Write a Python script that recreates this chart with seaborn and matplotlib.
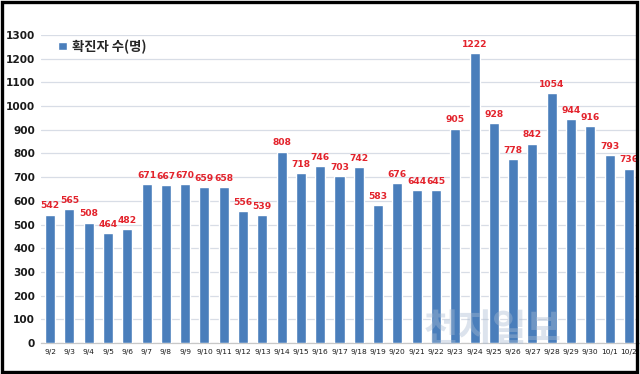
import matplotlib
matplotlib.use("Agg")
import matplotlib.pyplot as plt
import seaborn as sns
import pandas as pd
from matplotlib.patches import Rectangle

dates = ["9/2", "9/3", "9/4", "9/5", "9/6", "9/7", "9/8", "9/9", "9/10", "9/11",
         "9/12", "9/13", "9/14", "9/15", "9/16", "9/17", "9/18", "9/19", "9/20", "9/21",
         "9/22", "9/23", "9/24", "9/25", "9/26", "9/27", "9/28", "9/29", "9/30", "10/1", "10/2"]
cases = [542, 565, 508, 464, 482, 671, 667, 670, 659, 658,
         556, 539, 808, 718, 746, 703, 742, 583, 676, 644,
         645, 905, 1222, 928, 778, 842, 1054, 944, 916, 793, 736]
series_name = "확진자 수(명)"
y_ticks = list(range(0, 1301, 100))

sns.set_theme(style="white")
plt.rcParams["font.family"] = ["DejaVu Sans", "Noto Sans CJK KR"]

df = pd.DataFrame({"date": dates, "cases": cases})

fig = plt.figure(figsize=(6.4, 3.74), dpi=100)
ax = fig.add_axes([40.5 / 640, 1 - 343 / 374, (638.5 - 40.5) / 640, (343 - 35) / 374])

sns.barplot(data=df, x="date", y="cases", color="#4A7EBB", saturation=1,
            width=0.52, label=series_name, ax=ax, zorder=3)

ax.set_ylim(0, 1300)
ax.set_xlim(-0.5, len(dates) - 0.5)
ax.set_yticks(y_ticks)
ax.set_yticklabels([str(v) for v in y_ticks], fontsize=7.6, fontweight="bold", color="#1a1a1a")
ax.tick_params(axis="y", length=0, pad=4)
ax.set_xticks(range(len(dates)))
ax.set_xticklabels(dates, fontsize=5.4, color="#1a1a1a")
ax.tick_params(axis="x", length=0, pad=4)
ax.set_xticks([i + 0.5 for i in range(len(dates) - 1)], minor=True)
ax.tick_params(axis="x", which="minor", length=3, color="#E0B080", width=0.6)
ax.set_xlabel("")
ax.set_ylabel("")

ax.grid(axis="y", color="#D8DDE6", linewidth=0.9, zorder=0)
ax.grid(axis="x", visible=False)
for s in ["top", "right", "left"]:
    ax.spines[s].set_visible(False)
ax.spines["bottom"].set_color("#C8C8C8")
ax.spines["bottom"].set_linewidth(0.9)

ax.bar_label(ax.containers[0], labels=[str(v) for v in cases], padding=3,
             fontsize=6.6, fontweight="bold", color="#E3232C", zorder=5)

leg = ax.legend(loc="upper left", bbox_to_anchor=(0.01, 1.025), frameon=False,
                handlelength=0.65, handleheight=0.65, handletextpad=0.4,
                prop={"family": ["Noto Sans CJK KR"], "weight": "bold", "size": 9.6})

fig.text(0.77, 0.12, "천지일보", fontsize=27, fontweight="bold", color="#A9BBD2",
         alpha=0.4, ha="center", va="center", family=["Noto Sans CJK KR"], zorder=10)

fig.patches.append(Rectangle((0.003, 0.006), 0.992, 0.988, transform=fig.transFigure,
                             fill=False, edgecolor="black", linewidth=2.4, zorder=20))

fig.savefig("out.png", dpi=100)
